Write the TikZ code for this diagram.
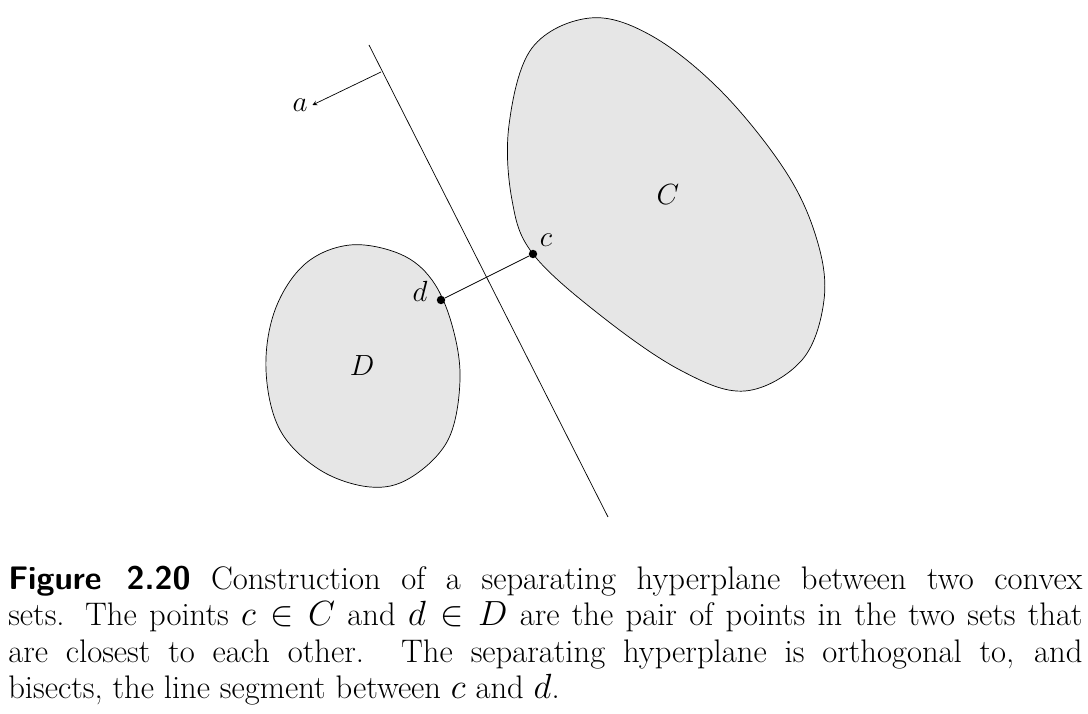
\documentclass[tikz,border=0pt]{standalone}
\usepackage{amsmath,amssymb}
\usetikzlibrary{calc,positioning}
\tikzset{>=stealth}
\definecolor{setgray}{HTML}{E6E6E6}
\tikzset{
  convexset/.style={draw=black,fill=setgray,line width=0.5pt},
  closept/.style={circle,fill=black,inner sep=0pt,minimum size=6pt},
  lbl/.style={font=\fontsize{21}{25}\selectfont}
}
\begin{document}
\begin{tikzpicture}[x=0.025cm,y=-0.025cm]
\useasboundingbox (0,0) rectangle (1088,714);
% the two sets
\draw[convexset] plot[smooth cycle,tension=0.6] coordinates {(590,18) (652,36) (722,92) (786,172) (817,240) (824,300) (802,360) (745,391) (680,370) (600,315) (533,254) (512,200) (509,125) (532,48)};
\draw[convexset] plot[smooth cycle,tension=0.6] coordinates {(350,245) (400,254) (432,280) (452,325) (460,380) (448,440) (410,478) (370,487) (320,470) (280,430) (266,370) (275,310) (305,264)};
% hyperplane
\coordinate (top) at (369,45);
\coordinate (bot) at (608,517);
\draw[line width=0.5pt] (top) -- (bot);
\coordinate (foot) at (381,72);
\node[lbl] (a) at (300,105) {$a$};
\draw[->,line width=0.5pt] (foot) -- (a.east);
% closest points
\node[closept] (c) at (533,254) {};
\node[closept] (d) at (441,300) {};
\draw[line width=0.5pt] (d) -- (c);
\node[lbl] (clab) at (546,240) {$c$};
\node[lbl] (dlab) at (420,291) {$d$};
\node[lbl] (Clab) at (668,195) {$C$};
\node[lbl] (Dlab) at (362,366) {$D$};
% caption
\node[anchor=north west,inner sep=0pt,text width=26.85cm,align=justify,
  font=\fontsize{23.2}{25.8}\selectfont] (cap) at (8,566)
{\textsf{\textbf{Figure 2.20}} Construction of a separating hyperplane between two convex\linebreak
sets. The points $c\in C$ and $d\in D$ are the pair of points in the two sets that\linebreak
are closest to each other. The separating hyperplane is orthogonal to, and\linebreak
bisects, the line segment between $c$ and $d$.};
\end{tikzpicture}
\end{document}
